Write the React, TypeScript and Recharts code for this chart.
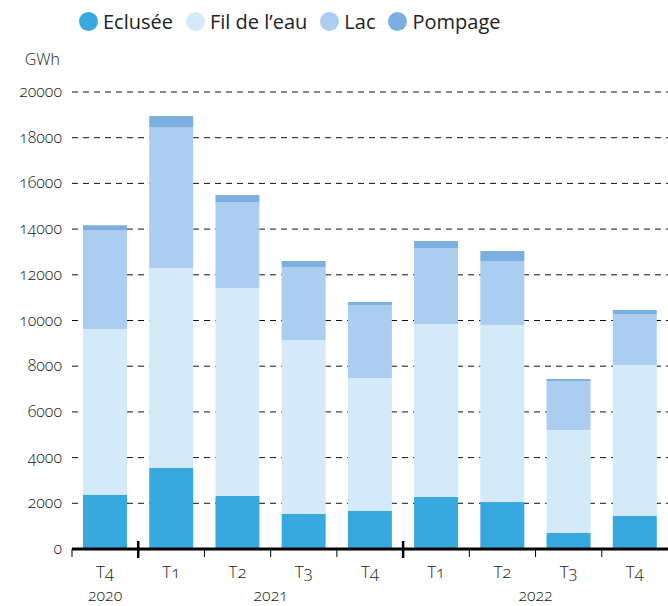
import { Bar, BarChart, CartesianGrid, Legend, XAxis, YAxis } from "recharts"

// Production hydraulique par trimestre, en GWh
const quarters = ["T4", "T1", "T2", "T3", "T4", "T1", "T2", "T3", "T4"]
const eclusee = [2360, 3550, 2320, 1530, 1660, 2280, 2060, 700, 1440]
const filEau = [7270, 8750, 9100, 7620, 5820, 7570, 7740, 4510, 6610]
const lac = [4330, 6170, 3770, 3190, 3200, 3320, 2800, 2140, 2230]
const pompage = [210, 480, 300, 260, 130, 310, 440, 90, 180]

// années : premier et dernier trimestre couverts
const years = [
  { label: "2020", from: 0, to: 0 },
  { label: "2021", from: 1, to: 4 },
  { label: "2022", from: 5, to: 8 },
]
const yTicks = [0, 2000, 4000, 6000, 8000, 10000, 12000, 14000, 16000, 18000, 20000]

const series = [
  { key: "eclusee", name: "Eclusée", color: "#38a9df", values: eclusee },
  { key: "filEau", name: "Fil de l’eau", color: "#d4eaf9", values: filEau },
  { key: "lac", name: "Lac", color: "#abcef0", values: lac },
  { key: "pompage", name: "Pompage", color: "#7aafdf", values: pompage },
]

const data = quarters.map((q, i) => {
  const row: Record<string, string | number> = { q }
  series.forEach((s) => (row[s.key] = s.values[i]))
  return row
})

const FONT = "'Open Sans', sans-serif"
const TEXT = "#222"
const numStyle = { fontVariantNumeric: "oldstyle-nums" as const }

function LegendContent() {
  return (
    <div style={{ display: "flex", alignItems: "center", fontFamily: FONT, fontSize: 20, color: TEXT }}>
      {series.map((s) => (
        <div key={s.key} style={{ display: "flex", alignItems: "center", marginRight: 13 }}>
          <span
            style={{
              width: 19,
              height: 19,
              borderRadius: "50%",
              background: s.color,
              display: "inline-block",
              marginRight: 5,
            }}
          />
          <span>{s.name}</span>
        </div>
      ))}
    </div>
  )
}

function ValueTick(props: any) {
  const { x, y, payload } = props
  return (
    <text
      x={x}
      y={y}
      dy={5}
      textAnchor="end"
      fontFamily={FONT}
      fontWeight={300}
      fontSize={16}
      fill={TEXT}
      style={numStyle}
    >
      {payload.value}
    </text>
  )
}

function QuarterTick(props: any) {
  const { x, y, payload, index } = props
  const half = payload.offset ?? 0
  const left = x - half
  const yearStart = years.some((yr) => yr.from === index && index > 0)
  const year = years.find((yr) => yr.to === index)
  // centre du groupe de trimestres
  const yearX = year ? x - (year.to - year.from) * half : x
  return (
    <g>
      {yearStart ? (
        <line x1={left} x2={left} y1={y - 8} y2={y + 9} stroke="#000" strokeWidth={2.5} />
      ) : (
        <line x1={left} x2={left} y1={y} y2={y + 8} stroke="#000" strokeWidth={1} />
      )}
      <text
        x={x}
        y={y + 29}
        textAnchor="middle"
        fontFamily={FONT}
        fontWeight={300}
        fontSize={17}
        fill={TEXT}
        style={numStyle}
      >
        {payload.value}
      </text>
      {year && (
        <text
          x={yearX}
          y={y + 52}
          textAnchor="middle"
          fontFamily={FONT}
          fontWeight={300}
          fontSize={16}
          fill={TEXT}
          style={numStyle}
        >
          {year.label}
        </text>
      )}
    </g>
  )
}

function UnitLabel(props: any) {
  const { viewBox } = props
  return (
    <text
      x={viewBox.x + viewBox.width - 12}
      y={viewBox.y - 27}
      textAnchor="end"
      fontFamily={FONT}
      fontWeight={300}
      fontSize={16}
      fill={TEXT}
    >
      GWh
    </text>
  )
}

export default function App() {
  return (
    <div style={{ position: "absolute", left: 0, top: 0, width: 668, height: 606, background: "#fff" }}>
      <BarChart width={668} height={606} data={data} margin={{ top: 92, right: 0, bottom: 0, left: 0 }}>
        <CartesianGrid vertical={false} stroke="#111" strokeDasharray="6 5" />
        <YAxis
          width={72}
          domain={[0, 20000]}
          ticks={yTicks}
          interval={0}
          axisLine={false}
          tickLine={false}
          tickSize={0}
          tickMargin={10}
          tick={<ValueTick />}
          label={<UnitLabel />}
        />
        <XAxis
          dataKey="q"
          height={57}
          interval={0}
          tickLine={false}
          tickSize={0}
          tickMargin={0}
          axisLine={{ stroke: "#000", strokeWidth: 3 }}
          tick={<QuarterTick />}
        />
        <Legend
          verticalAlign="middle"
          align="center"
          content={<LegendContent />}
          wrapperStyle={{ top: 8, left: 79, width: 540 }}
        />
        {series.map((s) => (
          <Bar
            key={s.key}
            dataKey={s.key}
            name={s.name}
            stackId="prod"
            fill={s.color}
            barSize={44}
            isAnimationActive={false}
          />
        ))}
      </BarChart>
    </div>
  )
}
